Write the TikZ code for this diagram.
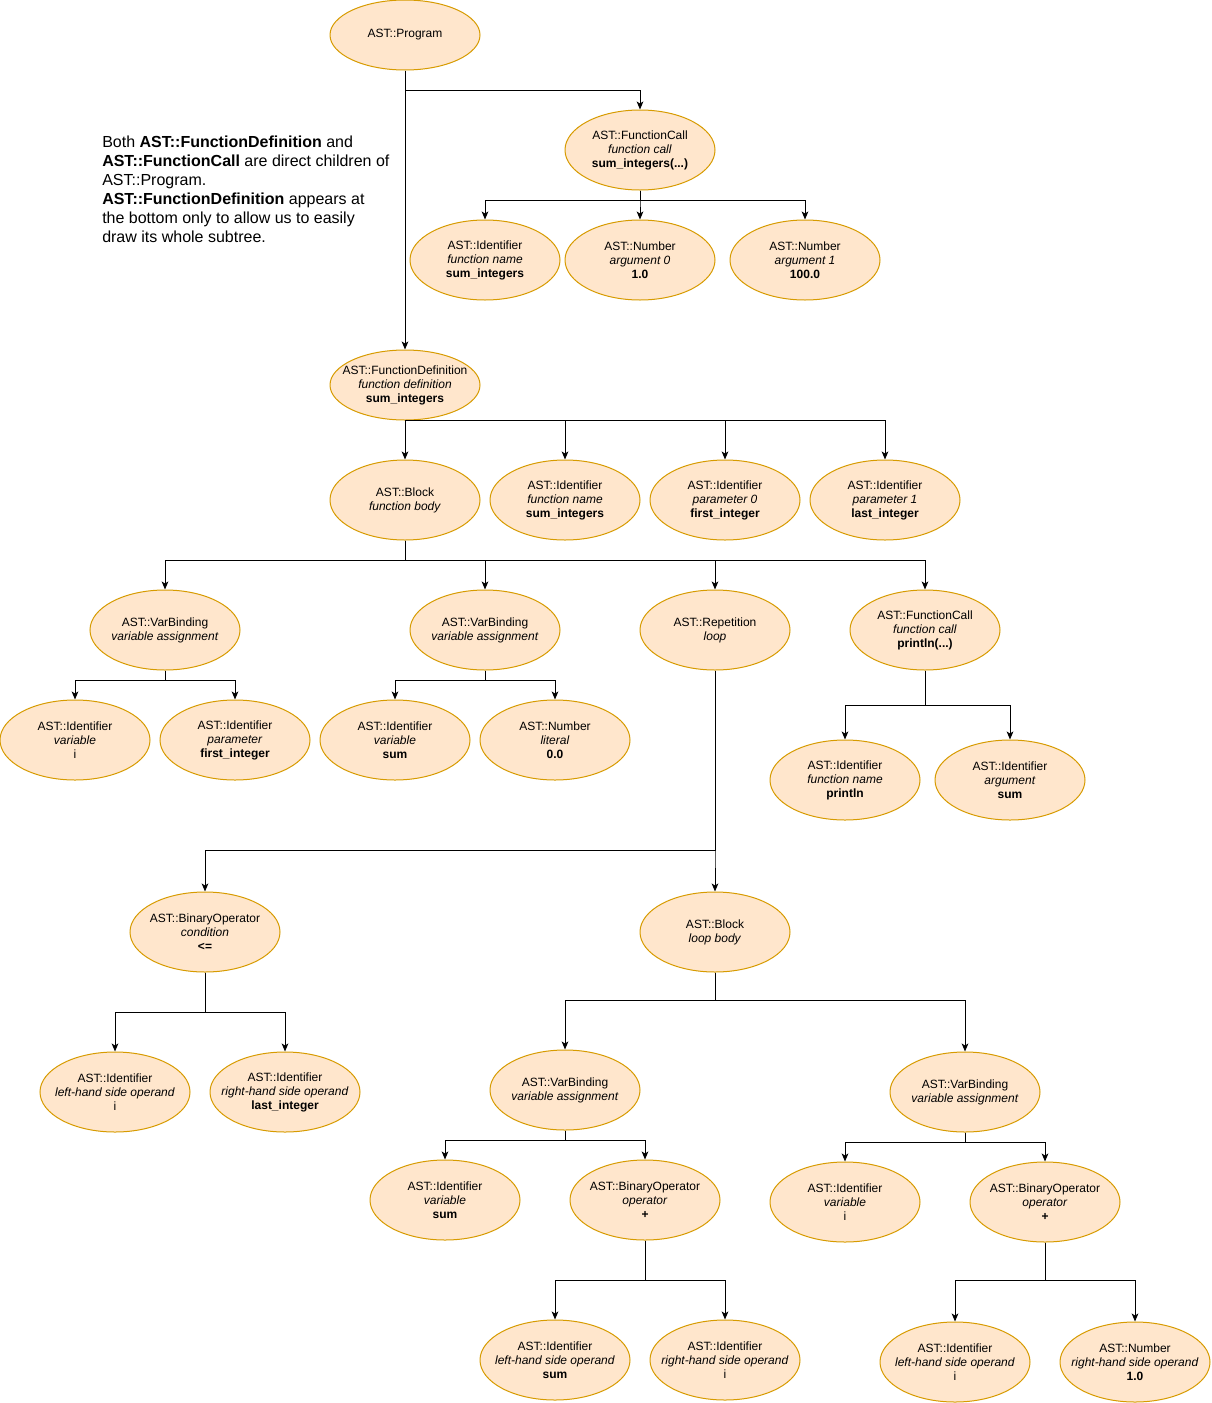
\documentclass[tikz,border=0pt]{standalone}
\usepackage{fontspec}
\setmainfont{Liberation Sans}
\usetikzlibrary{shapes.geometric,arrows.meta}

\begin{document}
\begin{tikzpicture}[x=0.75pt, y=-0.75pt,
  astnode/.style={ellipse, draw=astborder, fill=astfill, line width=0.75pt,
    minimum width=112.5pt, minimum height=60pt, inner xsep=-30pt, inner ysep=0pt, align=center,
    font=\fontsize{9}{10.5}\selectfont},
  astshort/.style={astnode, minimum height=52.5pt},
  edge/.style={draw=black, line width=0.75pt, -{Stealth[length=6pt,width=5pt,inset=1.5pt]}}]
  % Define colors
  \definecolor{astfill}{HTML}{FFE6CC}
  \definecolor{astborder}{HTML}{D79B00}

  \useasboundingbox (0,0) rectangle (1211,1403);

  % Note
  \node[anchor=north west, inner sep=0pt, align=left, font=\fontsize{12}{14.25}\selectfont] (note) at (102,136)
    {Both \textbf{AST::FunctionDefinition} and\\ \textbf{AST::FunctionCall} are direct children of\\ AST::Program.\\ \textbf{AST::FunctionDefinition} appears at\\ the bottom only to allow us to easily\\ draw its whole subtree.};

  % Program and top-level call
  \node[astshort] (prog) at (405,35) {AST::Program};
  \node[astnode] (fcall) at (640,150) {AST::FunctionCall\\\textit{function call}\\\textbf{sum\_integers(...)}};
  \node[astnode] (fname) at (485,260) {AST::Identifier\\\textit{function name}\\\textbf{sum\_integers}};
  \node[astnode] (arg0) at (640,260) {AST::Number\\\textit{argument 0}\\\textbf{1.0}};
  \node[astnode] (arg1) at (805,260) {AST::Number\\\textit{argument 1}\\\textbf{100.0}};

  % Function definition
  \node[astshort] (fdef) at (405,385) {AST::FunctionDefinition\\\textit{function definition}\\\textbf{sum\_integers}};
  \node[astnode] (body) at (405,500) {AST::Block\\\textit{function body}};
  \node[astnode] (dname) at (565,500) {AST::Identifier\\\textit{function name}\\\textbf{sum\_integers}};
  \node[astnode] (par0) at (725,500) {AST::Identifier\\\textit{parameter 0}\\\textbf{first\_integer}};
  \node[astnode] (par1) at (885,500) {AST::Identifier\\\textit{parameter 1}\\\textbf{last\_integer}};

  % Function body statements
  \node[astnode] (vb1) at (165,630) {AST::VarBinding\\\textit{variable assignment}};
  \node[astnode] (vb2) at (485,630) {AST::VarBinding\\\textit{variable assignment}};
  \node[astnode] (rep) at (715,630) {AST::Repetition\\\textit{loop}};
  \node[astnode] (pcall) at (925,630) {AST::FunctionCall\\\textit{function call}\\\textbf{println(...)}};

  \node[astnode] (vi) at (75,740) {AST::Identifier\\\textit{variable}\\i};
  \node[astnode] (vfirst) at (235,740) {AST::Identifier\\\textit{parameter}\\\textbf{first\_integer}};
  \node[astnode] (vsum) at (395,740) {AST::Identifier\\\textit{variable}\\\textbf{sum}};
  \node[astnode] (lit) at (555,740) {AST::Number\\\textit{literal}\\\textbf{0.0}};

  \node[astnode] (pname) at (845,780) {AST::Identifier\\\textit{function name}\\\textbf{println}};
  \node[astnode] (parg) at (1010,780) {AST::Identifier\\\textit{argument}\\\textbf{sum}};

  % Loop
  \node[astnode] (cond) at (205,932) {AST::BinaryOperator\\\textit{condition}\\\textbf{<=}};
  \node[astnode] (lbody) at (715,932) {AST::Block\\\textit{loop body}};
  \node[astnode] (cl) at (115,1092) {AST::Identifier\\\textit{left-hand side operand}\\i};
  \node[astnode] (cr) at (285,1092) {AST::Identifier\\\textit{right-hand side operand}\\\textbf{last\_integer}};

  \node[astnode] (vb3) at (565,1090) {AST::VarBinding\\\textit{variable assignment}};
  \node[astnode] (vb4) at (965,1092) {AST::VarBinding\\\textit{variable assignment}};
  \node[astnode] (sumvar) at (445,1200) {AST::Identifier\\\textit{variable}\\\textbf{sum}};
  \node[astnode] (add1) at (645,1200) {AST::BinaryOperator\\\textit{operator}\\\textbf{+}};
  \node[astnode] (ivar) at (845,1202) {AST::Identifier\\\textit{variable}\\i};
  \node[astnode] (add2) at (1045,1202) {AST::BinaryOperator\\\textit{operator}\\\textbf{+}};

  \node[astnode] (al) at (555,1360) {AST::Identifier\\\textit{left-hand side operand}\\\textbf{sum}};
  \node[astnode] (ar) at (725,1360) {AST::Identifier\\\textit{right-hand side operand}\\i};
  \node[astnode] (bl) at (955,1362) {AST::Identifier\\\textit{left-hand side operand}\\i};
  \node[astnode] (br) at (1135,1362) {AST::Number\\\textit{right-hand side operand}\\\textbf{1.0}};

  % Connectors
  \draw[edge] (prog.south) -- (fdef.north);
  \draw[edge] (prog.south) -- ++(0,20) -| (fcall.north);
  \foreach \c in {fname,arg0,arg1} \draw[edge] (fcall.south) -- ++(0,10) -| (\c.north);
  \foreach \c in {body,dname,par0,par1} \draw[edge] (fdef.south) -| (\c.north);
  \foreach \c in {vb1,vb2,rep,pcall} \draw[edge] (body.south) -- ++(0,20) -| (\c.north);
  \foreach \c in {vi,vfirst} \draw[edge] (vb1.south) -- ++(0,10) -| (\c.north);
  \foreach \c in {vsum,lit} \draw[edge] (vb2.south) -- ++(0,10) -| (\c.north);
  \foreach \c in {pname,parg} \draw[edge] (pcall.south) -- ++(0,35) -| (\c.north);
  \foreach \c in {cond,lbody} \draw[edge] (rep.south) -- ++(0,180) -| (\c.north);
  \foreach \c in {cl,cr} \draw[edge] (cond.south) -- ++(0,40) -| (\c.north);
  \foreach \c in {vb3,vb4} \draw[edge] (lbody.south) -- ++(0,28) -| (\c.north);
  \foreach \c in {sumvar,add1} \draw[edge] (vb3.south) -- ++(0,10) -| (\c.north);
  \foreach \c in {ivar,add2} \draw[edge] (vb4.south) -- ++(0,10) -| (\c.north);
  \foreach \c in {al,ar} \draw[edge] (add1.south) -- ++(0,40) -| (\c.north);
  \foreach \c in {bl,br} \draw[edge] (add2.south) -- ++(0,38) -| (\c.north);
\end{tikzpicture}
\end{document}
